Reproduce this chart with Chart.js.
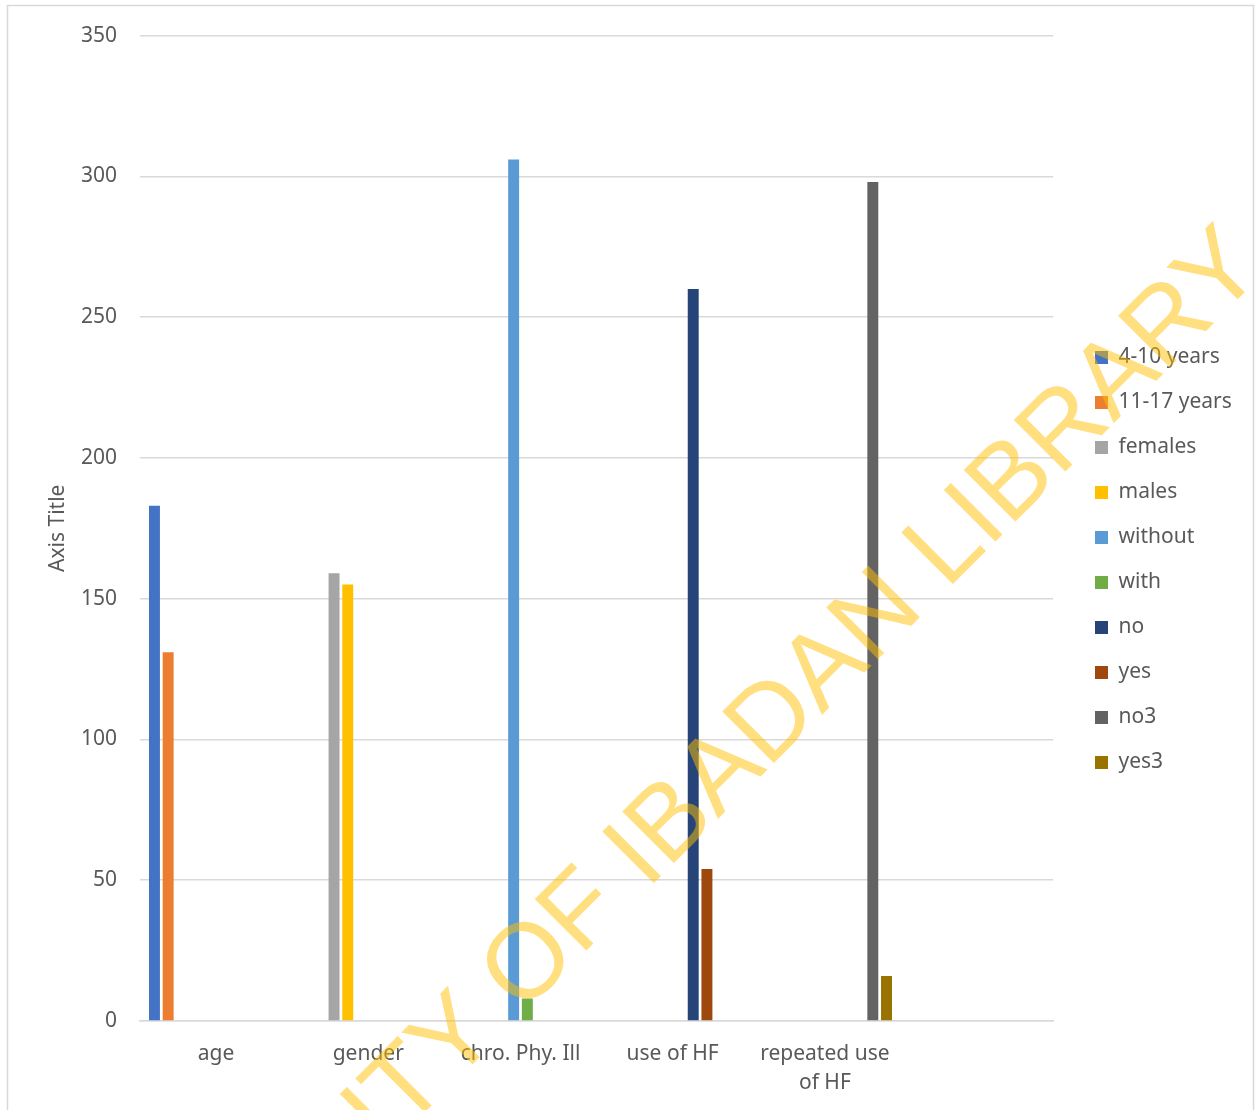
<!DOCTYPE html>
<html>
<head>
    <title>Axis Title chart</title>
    <script src="https://cdn.jsdelivr.net/npm/chart.js"></script>
    <style>
        body { margin: 0; background: #fff; }
        #wrap { width: 1255px; height: 1110px; position: relative; }
    </style>
</head>
<body>
<div id="wrap"><canvas id="barChart"></canvas></div>
<script>
    // categories on the x axis (last one is empty in the source chart)
    const categories = ['age', 'gender', 'chro. Phy. Ill', 'use of HF', ['repeated use', 'of HF'], ''];
    const seriesNames = ['4-10 years', '11-17 years', 'females', 'males', 'without', 'with', 'no', 'yes', 'no3', 'yes3'];
    const seriesColors = ['#4472C4', '#ED7D31', '#A5A5A5', '#FFC000', '#5B9BD5', '#70AD47', '#264478', '#9E480E', '#636363', '#997300'];
    // which category each series belongs to, and its value
    const seriesCategory = [0, 0, 1, 1, 2, 2, 3, 3, 4, 4];
    const seriesValues = [183, 131, 159, 155, 306, 8, 260, 54, 298, 16];
    const yTicks = [0, 50, 100, 150, 200, 250, 300, 350];

    const textColor = '#595959';
    const gridColor = '#D9D9D9';
    const baseFont = { family: '"Noto Sans", sans-serif', size: 21 };

    const datasets = seriesNames.map((name, i) => ({
        label: name,
        data: categories.map((c, j) => j === seriesCategory[i] ? seriesValues[i] : null),
        backgroundColor: seriesColors[i],
        borderWidth: 0,
        categoryPercentage: 0.9,
        barPercentage: 0.8
    }));

    // frame around the chart, legend placement and the library watermark
    const decor = {
        id: 'decor',
        afterLayout(chart) {
            const lg = chart.legend;
            const pad = lg.options.labels.padding;
            const dx = 1095 - pad - lg.left;
            lg.left += dx; lg.right += dx;
            const dy = 347 - pad - lg.top;
            lg.top += dy; lg.bottom += dy;
        },
        beforeDraw(chart) {
            const ctx = chart.ctx;
            ctx.save();
            ctx.fillStyle = '#fff';
            ctx.fillRect(0, 0, chart.width, chart.height);
            ctx.strokeStyle = gridColor;
            ctx.lineWidth = 1.5;
            ctx.strokeRect(7.5, 5.5, 1246, 1200);
            ctx.restore();
        },
        afterDraw(chart) {
            const ctx = chart.ctx;
            const size = 106;
            ctx.save();
            ctx.font = size + 'px "Liberation Sans", sans-serif';
            const offset = ctx.measureText('UNIVERSITY OF ').width + 0.135 * size;
            const a = Math.PI / 4;
            // bottom of the "I" in IBADAN
            const ix = 657, iy = 880;
            const ox = ix - offset * Math.cos(a);
            const oy = iy + offset * Math.sin(a);
            ctx.translate(ox, oy);
            ctx.rotate(-a);
            ctx.fillStyle = 'rgba(255, 192, 0, 0.5)';
            ctx.textBaseline = 'alphabetic';
            ctx.textAlign = 'left';
            ctx.fillText('UNIVERSITY OF IBADAN LIBRARY', 0, 0);
            ctx.restore();
        }
    };

    const ctx = document.getElementById('barChart').getContext('2d');
    const chart = new Chart(ctx, {
        type: 'bar',
        data: { labels: categories, datasets: datasets },
        plugins: [decor],
        options: {
            responsive: true,
            maintainAspectRatio: false,
            animation: false,
            skipNull: false,
            layout: { padding: { left: 0, right: 31, top: 33, bottom: 0 } },
            plugins: {
                legend: {
                    position: 'right',
                    align: 'start',
                    labels: {
                        color: textColor,
                        font: baseFont,
                        boxWidth: 13,
                        boxHeight: 13,
                        padding: 24
                    }
                },
                tooltip: { enabled: false }
            },
            scales: {
                x: {
                    grid: { display: false },
                    border: { display: true, color: gridColor, width: 1.5 },
                    ticks: {
                        color: textColor,
                        font: { family: baseFont.family, size: 21, lineHeight: 1.35 },
                        maxRotation: 0,
                        autoSkip: false,
                        padding: 11
                    },
                    afterFit(scale) { scale.height = 89; }
                },
                y: {
                    min: 0,
                    max: 350,
                    afterBuildTicks(scale) { scale.ticks = yTicks.map(v => ({ value: v })); },
                    grid: { color: gridColor, lineWidth: 1.5, drawTicks: false },
                    border: { display: false },
                    ticks: { color: textColor, font: baseFont, padding: 23 },
                    title: {
                        display: true,
                        text: 'Axis Title',
                        color: textColor,
                        font: baseFont,
                        padding: { top: 45, bottom: 0 }
                    },
                    afterFit(scale) { scale.width = 140; }
                }
            }
        }
    });
</script>
</body>
</html>
